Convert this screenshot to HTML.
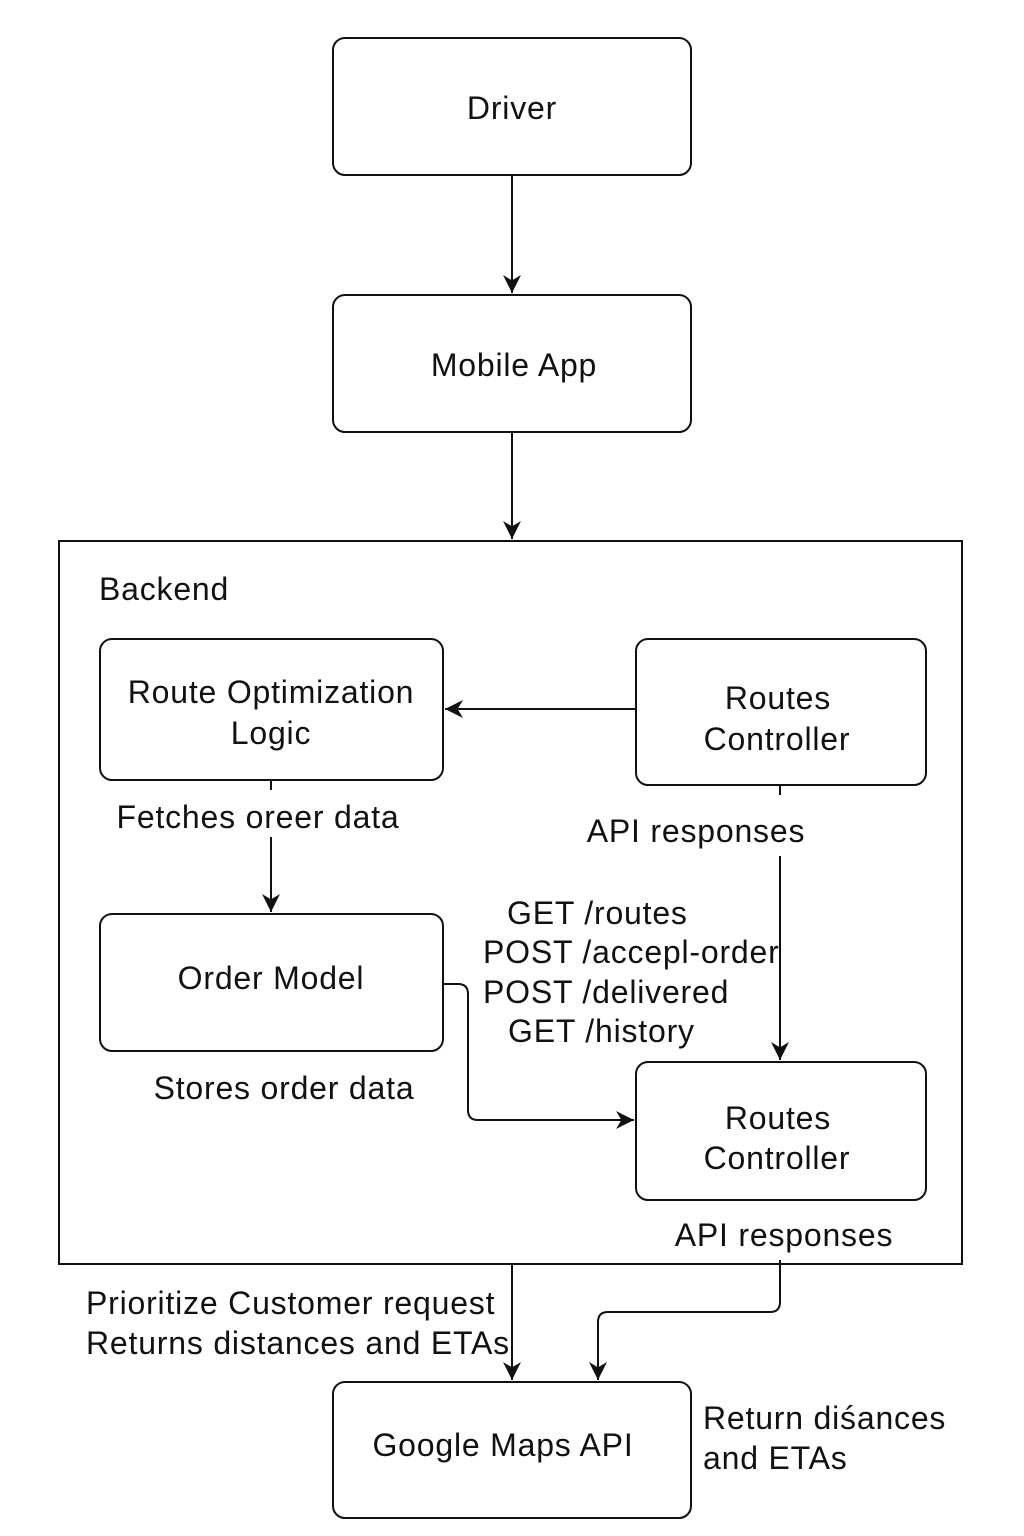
<!DOCTYPE html>
<html><head><meta charset="utf-8"><style>
html,body{margin:0;padding:0;background:#fff;}
svg{display:block;}
text{font-family:"Liberation Sans",sans-serif;fill:#111;}
</style></head><body>
<svg width="1024" height="1536" viewBox="0 0 1024 1536" xmlns="http://www.w3.org/2000/svg">
<defs>
<marker id="b" viewBox="0 0 10 10" refX="10" refY="5" markerWidth="18" markerHeight="18" markerUnits="userSpaceOnUse" orient="auto">
<path d="M0,0 L10,5 L0,10 L3,5 z" fill="#111"/></marker>
</defs>
<g fill="none" stroke="#111" stroke-width="2">
<rect x="333" y="38" width="358" height="137" rx="12"/>
<rect x="333" y="295" width="358" height="137" rx="12"/>
<rect x="59" y="541" width="903" height="723"/>
<rect x="100" y="639" width="343" height="141" rx="12"/>
<rect x="636" y="639" width="290" height="146" rx="12"/>
<rect x="100" y="914" width="343" height="137" rx="12"/>
<rect x="636" y="1062" width="290" height="138" rx="12"/>
<rect x="333" y="1382" width="358" height="136" rx="12"/>
<path d="M512 175 V293" marker-end="url(#b)"/>
<path d="M512 432 V539" marker-end="url(#b)"/>
<path d="M636 709 H445" marker-end="url(#b)"/>
<path d="M271 837 V912" marker-end="url(#b)"/>
<path d="M271 780 V790"/>
<path d="M780 785 V795"/>
<path d="M780 856 V1060" marker-end="url(#b)"/>
<path d="M443 984 H458 Q468 984 468 994 V1110 Q468 1120 478 1120 H634" marker-end="url(#b)"/>
<path d="M512 1264 V1380" marker-end="url(#b)"/>
<path d="M780 1260 V1302 Q780 1312 770 1312 H608 Q598 1312 598 1322 V1380" marker-end="url(#b)"/>
</g>
<g font-size="32" letter-spacing="0.8">
<text x="512" y="119" text-anchor="middle">Driver</text>
<text x="514" y="376" text-anchor="middle">Mobile App</text>
<text x="99" y="600">Backend</text>
<text x="271" y="703" text-anchor="middle">Route Optimization</text>
<text x="271" y="744" text-anchor="middle">Logic</text>
<text x="778" y="709" text-anchor="middle">Routes</text>
<text x="777" y="750" text-anchor="middle">Controller</text>
<text x="258" y="828" text-anchor="middle">Fetches oreer data</text>
<text x="696" y="842" text-anchor="middle">API responses</text>
<text x="271" y="989" text-anchor="middle">Order Model</text>
<text x="507" y="924">GET /routes</text>
<text x="483" y="963">POST /accepl-order</text>
<text x="483" y="1003">POST /delivered</text>
<text x="508" y="1042">GET /history</text>
<text x="284" y="1099" text-anchor="middle">Stores order data</text>
<text x="778" y="1129" text-anchor="middle">Routes</text>
<text x="777" y="1169" text-anchor="middle">Controller</text>
<text x="784" y="1246" text-anchor="middle">API responses</text>
<text x="86" y="1314">Prioritize Customer request</text>
<text x="86" y="1354">Returns distances and ETAs</text>
<text x="503" y="1456" text-anchor="middle">Google Maps API</text>
<text x="703" y="1429">Return diśances</text>
<text x="703" y="1469">and ETAs</text>
</g>
</svg>
</body></html>
